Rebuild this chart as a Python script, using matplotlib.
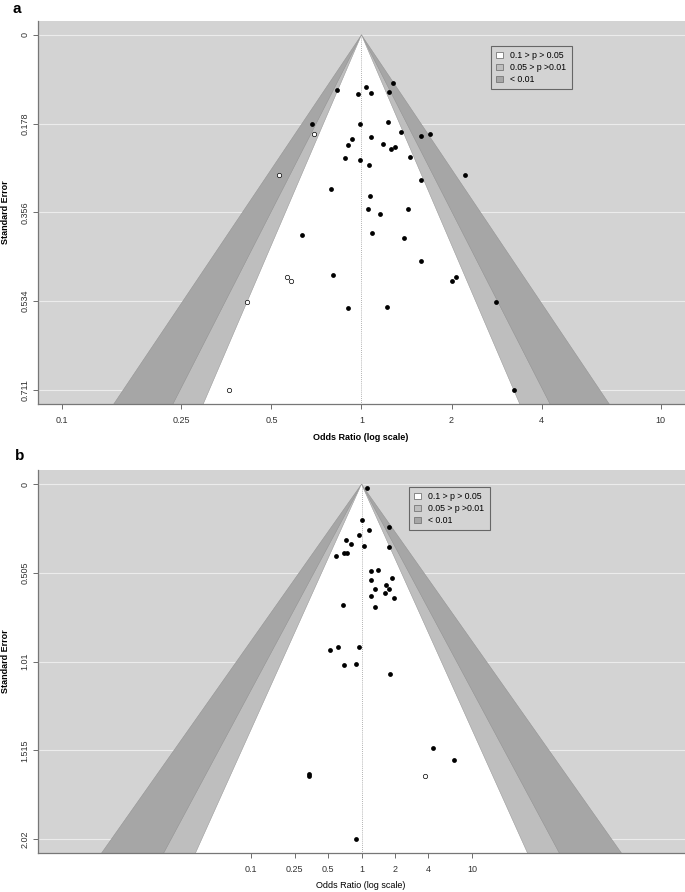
import numpy as np
import matplotlib
matplotlib.use("Agg")
import matplotlib.pyplot as plt
from matplotlib.patches import Patch

plt.rcParams['font.family'] = ['Liberation Sans', 'DejaVu Sans']

# ---- panel a data (odds ratio, standard error) ----
a_or_obs = [1.275, 0.825, 1.036, 0.970, 1.072, 1.231, 0.682, 0.989, 1.222, 1.356,
            1.586, 1.691, 0.926, 0.900, 1.072, 1.181, 1.256, 1.299, 1.458, 0.880,
            0.989, 1.063, 2.219, 1.578, 0.788, 1.068, 1.055, 1.154, 1.428, 0.632,
            1.085, 1.385, 1.578, 0.806, 2.014, 2.077, 2.825, 0.898, 1.218, 3.234]
a_se_obs = [0.097, 0.110, 0.104, 0.118, 0.116, 0.114, 0.179, 0.178, 0.174, 0.195,
            0.203, 0.199, 0.208, 0.221, 0.205, 0.219, 0.229, 0.225, 0.245, 0.247,
            0.250, 0.261, 0.281, 0.291, 0.309, 0.323, 0.350, 0.360, 0.350, 0.401,
            0.398, 0.408, 0.453, 0.481, 0.493, 0.486, 0.535, 0.547, 0.545, 0.7118]
a_or_fill = [0.693, 0.528, 0.563, 0.582, 0.414, 0.362]
a_se_fill = [0.199, 0.281, 0.486, 0.494, 0.535, 0.7118]
a_yticks = [0, 0.17795, 0.3559, 0.53385, 0.7118]
a_ylabels = ['0', '0.178', '0.356', '0.534', '0.711']

# ---- panel b data ----
b_or_obs = [1.11, 1.021, 1.78, 1.181, 0.953, 0.717, 0.807, 1.058, 1.768, 0.693,
            0.742, 0.587, 1.224, 1.407, 1.883, 1.224, 1.672, 1.338, 1.754, 1.647,
            1.224, 1.946, 0.674, 1.33, 0.959, 0.607, 0.521, 0.702, 0.883, 1.791,
            4.42, 6.78, 0.337, 0.337, 0.89]
b_se_obs = [0.021, 0.205, 0.245, 0.260, 0.288, 0.315, 0.338, 0.353, 0.359, 0.389,
            0.389, 0.411, 0.495, 0.489, 0.535, 0.544, 0.571, 0.595, 0.599, 0.620,
            0.639, 0.650, 0.686, 0.700, 0.924, 0.929, 0.941, 1.030, 1.024, 1.083,
            1.500, 1.572, 1.650, 1.658, 2.02]
b_or_fill = [3.71]
b_se_fill = [1.659]
b_yticks = [0, 0.505, 1.01, 1.515, 2.02]
b_ylabels = ['0', '0.505', '1.01', '1.515', '2.02']

or_ticks = [0.1, 0.25, 0.5, 1, 2, 4, 10]
or_labels = ['0.1', '0.25', '0.5', '1', '2', '4', '10']

z_levels = [2.576, 1.960, 1.645]
band_cols = ['#a6a6a6', '#bebebe', 'white']
back_col = '#d3d3d3'

fig = plt.figure(figsize=(6.85, 8.92), dpi=100)
W, H = 685.0, 892.0


def funnel(rect, or_obs, se_obs, or_fill, se_fill, yticks, ylabels, xhalf, leg_xy):
    ax = fig.add_axes(rect)
    ax.set_facecolor(back_col)
    semax = yticks[-1]
    ybot = semax * 1.04
    ax.set_ylim(ybot, -semax * 0.04)
    ax.set_xlim(-xhalf, xhalf)

    for yt in yticks:
        ax.axhline(yt, color='#ececec', lw=0.8, zorder=1)

    for z, c in zip(z_levels, band_cols):
        ax.fill([-z * ybot, 0, z * ybot], [ybot, 0, ybot], color=c, lw=0, zorder=2)
        ax.plot([-z * ybot, 0, z * ybot], [ybot, 0, ybot], color='#8c8c8c', lw=0.3,
                zorder=2)

    ax.plot([0, 0], [0, ybot], color='#999999', lw=0.6, ls=(0, (1, 1.5)), zorder=3)

    ax.scatter(np.log(or_obs), se_obs, s=12, color='black', zorder=4, lw=0)
    ax.scatter(np.log(or_fill), se_fill, s=10, facecolor='white', edgecolor='black',
               lw=0.5, zorder=4)

    ax.set_yticks(yticks)
    ax.set_yticklabels(ylabels, rotation=90, va='center', fontsize=6.5, color='#333333')
    ax.set_xticks(np.log(or_ticks))
    ax.set_xticklabels(or_labels, fontsize=6.5, color='#333333')
    ax.tick_params(length=3.5, width=0.6, color='#555555')
    ax.tick_params(axis='y', pad=2.5)
    ax.tick_params(axis='x', pad=5)

    for s in ['top', 'right']:
        ax.spines[s].set_visible(False)
    for s in ['left', 'bottom']:
        ax.spines[s].set_color('#777777')
        ax.spines[s].set_linewidth(0.9)

    handles = [Patch(facecolor=c, edgecolor='#777777', lw=0.6) for c in
               ['white', '#bebebe', '#a6a6a6']]
    leg = ax.legend(handles, ['0.1 > p > 0.05', '0.05 > p >0.01', '< 0.01'],
                    loc='upper left', bbox_to_anchor=leg_xy, bbox_transform=fig.transFigure,
                    fontsize=6.3, handlelength=0.8, handleheight=0.8, handletextpad=0.8,
                    labelspacing=0.35, borderpad=0.6, fancybox=False, framealpha=1,
                    facecolor=back_col, edgecolor='#666666', borderaxespad=0)
    leg.get_frame().set_linewidth(0.8)
    leg.set_zorder(5)
    return ax


ax_a = funnel([38 / W, 1 - 404 / H, 647 / W, 383.3 / H], a_or_obs, a_se_obs, a_or_fill,
              a_se_fill, a_yticks, a_ylabels, 2.49, (491 / W, 1 - 45.7 / H))
ax_b = funnel([38 / W, 1 - 853.3 / H, 647 / W, 383.3 / H], b_or_obs, b_se_obs, b_or_fill,
              b_se_fill, b_yticks, b_ylabels, 6.73, (409 / W, 1 - 486.7 / H))

fig.text(361 / W, 1 - 437 / H, 'Odds Ratio (log scale)', fontsize=6.5, fontweight='bold',
         ha='center', va='center')
fig.text(361 / W, 1 - 885.5 / H, 'Odds Ratio (log scale)', fontsize=6.5,
         ha='center', va='center')
fig.text(6 / W, 1 - 212 / H, 'Standard Error', fontsize=6.5, fontweight='bold',
         rotation=90, ha='center', va='center')
fig.text(6 / W, 1 - 661 / H, 'Standard Error', fontsize=6.5, fontweight='bold',
         rotation=90, ha='center', va='center')

fig.text(17 / W, 1 - 2 / H, 'a', fontsize=11, fontweight='bold', ha='center', va='top')
fig.text(20 / W, 1 - 449 / H, 'b', fontsize=11, fontweight='bold', ha='center', va='top')

fig.savefig('out.png', dpi=100)
